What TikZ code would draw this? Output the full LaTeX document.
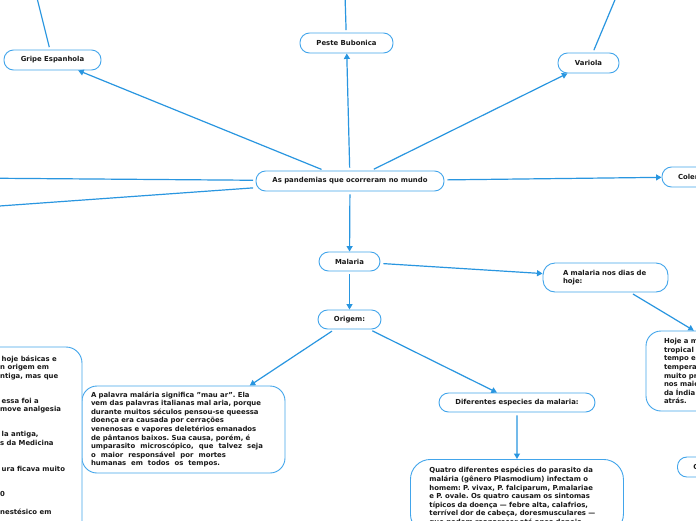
\documentclass[tikz,border=0pt]{standalone}
\usepackage{fontspec}
\setmainfont{DejaVu Sans}
\usetikzlibrary{arrows.meta}
\definecolor{linec}{RGB}{41,150,224}
\definecolor{bordc}{RGB}{66,165,235}
\definecolor{txtc}{RGB}{25,25,25}
\newcommand\mmfont{\bfseries\fontsize{6.9}{8.6}\selectfont\frenchspacing}
\newcommand\jline[2]{\makebox[#1][s]{\spaceskip=.32em plus 4em\relax #2}}
\tikzset{
 pill/.style={draw=bordc, fill=white, line width=0.9pt, rounded corners=9.5pt, font=\mmfont, text=txtc, inner sep=0pt, minimum height=20pt},
 bigbox/.style={draw=bordc, fill=white, line width=0.9pt, rounded corners=15pt, font=\mmfont, text=txtc, align=left, inner ysep=0pt},
 conn/.style={draw=linec, line width=1.2pt, shorten <=3pt, -{Triangle[length=5.5pt,width=6pt]}},
 lead/.style={draw=linec, line width=1.2pt, shorten <=2.5pt},
}
\begin{document}
\begin{tikzpicture}[x=1pt,y=-1pt]
\useasboundingbox (0,0) rectangle (696,520);
\fill[white] (0,0) rectangle (696,520);
\clip (0,0) rectangle (696,520);

% nodes
\node[pill, minimum width=188pt] (central) at (350,181) {As pandemias que ocorreram no mundo};
\node[pill, minimum width=97pt] (gripe) at (52.5,60) {Gripe Espanhola};
\node[pill, minimum width=93pt] (peste) at (346.5,43) {Peste Bubonica};
\node[pill, minimum width=61pt] (variola) at (588.5,63) {Variola};
\node[pill, minimum width=57pt] (colera) at (690.5,177) {Colera};
\node[pill, minimum width=61pt, minimum height=19pt] (malaria) at (349.5,261.5) {Malaria};
\node[pill, minimum width=63pt, minimum height=19pt] (origem) at (349.5,319.5) {Origem:};
\node[pill, minimum width=156pt, minimum height=19pt] (diferentes) at (517,402.5) {Diferentes especies da malaria:};
\node[pill, minimum height=29pt, text width=85pt, align=left, inner xsep=20pt, rounded corners=12pt] (diasq) at (605.5,277.5) {A malaria nos dias de\\hoje:};
\node[pill, anchor=west, text width=48pt, align=left, inner xsep=16pt] (cnode) at (677,467) {C};

\node[bigbox, text width=185pt, inner xsep=9pt, minimum height=87pt] (palavra) at (183.5,429.5) {A palavra malária significa "mau ar". Ela\\
vem das palavras italianas mal aria, porque\\
durante muitos séculos pensou-se queessa\\
doença era causada por cerrações\\
venenosas e vapores deletérios emanados\\
de pântanos baixos. Sua causa, porém, é\\
\jline{172pt}{umparasito microscópico, que talvez seja}\\
\jline{135pt}{o maior responsável por mortes}\\
\jline{129pt}{humanas em todos os tempos.}};

\node[bigbox, text width=194pt, inner xsep=18pt, minimum height=80pt] (hoje) at (761,371) {Hoje a malária\\tropical\\tempo e\\temperadas\\muito presente\\nos maiores\\da Índia\\atrás.};

\node[bigbox, anchor=north west, text width=175pt, inner xsep=19pt, inner ysep=8pt, rounded corners=20pt] (quatro) at (410,459) {Quatro diferentes espécies do parasito da\\
malária (gênero Plasmodium) infectam o\\
homem: P. vivax, P. falciparum, P.malariae\\
e P. ovale. Os quatro causam os sintomas\\
típicos da doença — febre alta, calafrios,\\
terrível dor de cabeça, doresmusculares —\\
que podem reaparecer até anos depois.};

\node[bigbox, minimum width=232pt, minimum height=273pt, rounded corners=16pt] (remed) at (-34,483.5) {};
\node[font=\mmfont, text=txtc, align=left, anchor=north west, inner sep=0pt] (remedtext) at (0,355.5) {\hspace*{1.5pt}hoje básicas e\\n origem em\\ntiga, mas que\\[16pt]\hspace*{1.5pt}essa foi a\\move analgesia\\[16.5pt]\hspace*{1.5pt}la antiga,\\s da Medicina\\[17.2pt]\hspace*{1.5pt}ura ficava muito\\[17.2pt]0\\[8.6pt]nestésico em};

% free ends
\coordinate (g1) at (37,-2);
\coordinate (p1) at (345,-5);
\coordinate (v1) at (617,-5);
\coordinate (l1) at (-100,177.5);
\coordinate (l2) at (-100,213.1);

% connectors
\draw[conn] (central) -- (gripe);
\draw[conn] (central) -- (peste);
\draw[conn] (central) -- (variola);
\draw[conn] (central) -- (colera);
\draw[lead] (central) -- (l1);
\draw[lead] (central) -- (l2);
\draw[conn] (central) -- (malaria);
\draw[conn] (malaria) -- (origem);
\draw[conn] (malaria) -- (diasq);
\draw[conn] (diasq) -- (hoje);
\draw[conn] (origem) -- (palavra);
\draw[conn] (origem) -- (diferentes);
\draw[conn] (diferentes) -- (quatro);
\draw[lead] (gripe) -- (g1);
\draw[lead] (peste) -- (p1);
\draw[lead] (variola) -- (v1);
\end{tikzpicture}
\end{document}
